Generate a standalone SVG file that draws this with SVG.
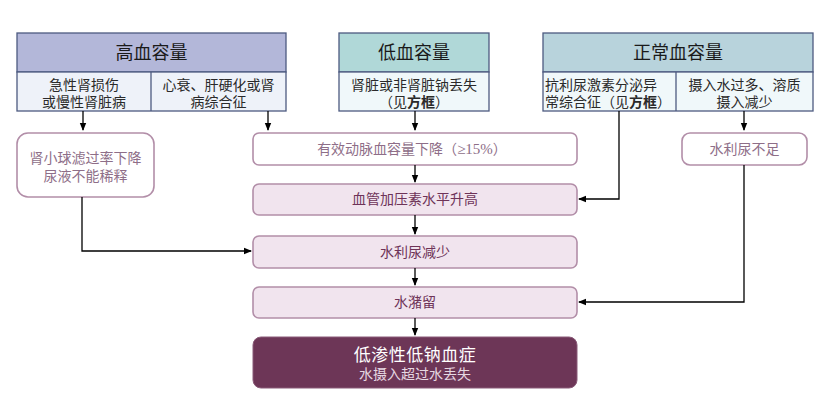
<svg xmlns="http://www.w3.org/2000/svg" width="831" height="413" viewBox="0 0 831 413">
<defs>
<marker id="ah" markerWidth="8" markerHeight="8" refX="7" refY="4" orient="auto" markerUnits="userSpaceOnUse">
<path d="M0,0.8 L8,4 L0,7.2 Z" fill="#000"/>
</marker>
<style>
text{font-family:"Liberation Serif","Noto Sans CJK SC",serif;text-anchor:middle}
.hb{stroke:#4d5a80;stroke-width:1.3}
.ht{font-size:18px;fill:#1a1a1a}
.st{font-size:14px;fill:#2a2a2a}
.wn{fill:#ffffff;stroke:#b28ea8;stroke-width:1.6}
.pn{fill:#f1e4ee;stroke:#b28ea8;stroke-width:1.6}
.wt{font-size:14px;fill:#8e6e88}
.pt{font-size:14px;fill:#6e3358}
.ln{fill:none;stroke:#000;stroke-width:1.3;marker-end:url(#ah)}
</style>
</defs>
<rect width="831" height="413" fill="#fff"/>
<g id="hyper">
<rect class="hb" x="17" y="33" width="269" height="39" fill="#b3b7d9"/>
<rect class="hb" x="17" y="72" width="269" height="39" fill="#eef2f9"/>
<line class="hb" x1="151" y1="72" x2="151" y2="111"/>
<text class="ht" x="151.5" y="59">高血容量</text>
<text class="st" x="84" y="90">急性肾损伤</text>
<text class="st" x="84" y="107">或慢性肾脏病</text>
<text class="st" x="218.5" y="90">心衰、肝硬化或肾</text>
<text class="st" x="218.5" y="107">病综合征</text>
</g>
<g id="hypo">
<rect class="hb" x="339" y="33" width="150" height="39" fill="#b0d8d8"/>
<rect class="hb" x="339" y="72" width="150" height="39" fill="#f0f8fa"/>
<text class="ht" x="414" y="59">低血容量</text>
<text class="st" x="414" y="90">肾脏或非肾脏钠丢失</text>
<text class="st" x="414" y="107">（见<tspan font-weight="bold">方框</tspan>）</text>
</g>
<g id="normo">
<rect class="hb" x="543" y="33" width="270" height="39" fill="#b8d3dc"/>
<rect class="hb" x="543" y="72" width="270" height="39" fill="#f0f8fa"/>
<line class="hb" x1="676" y1="72" x2="676" y2="111"/>
<text class="ht" x="678" y="59">正常血容量</text>
<text class="st" x="545" y="90" style="text-anchor:start">抗利尿激素分泌异</text>
<text class="st" x="545" y="107" style="text-anchor:start">常综合征（见<tspan font-weight="bold">方框</tspan>）</text>
<text class="st" x="744.5" y="90">摄入水过多、溶质</text>
<text class="st" x="744.5" y="107">摄入减少</text>
</g>
<g id="gfr">
<rect class="wn" x="17" y="133" width="137" height="64" rx="11"/>
<text class="wt" x="85.5" y="163">肾小球滤过率下降</text>
<text class="wt" x="85.5" y="181">尿液不能稀释</text>
</g>
<g id="eavd">
<rect class="wn" x="253" y="133" width="324" height="32" rx="6"/>
<text class="wt" x="412" y="154">有效动脉血容量下降（<tspan style="font-size:15px">≥15%</tspan>）</text>
</g>
<g id="wdef">
<rect class="wn" x="682" y="133" width="125" height="32" rx="8"/>
<text class="wt" x="744.5" y="154">水利尿不足</text>
</g>
<g id="avp">
<rect class="pn" x="253" y="184" width="324" height="31" rx="6"/>
<text class="pt" x="415" y="204">血管加压素水平升高</text>
</g>
<g id="wdr">
<rect class="pn" x="253" y="236" width="324" height="32" rx="6"/>
<text class="pt" x="415" y="257">水利尿减少</text>
</g>
<g id="wret">
<rect class="pn" x="253" y="287" width="324" height="31" rx="6"/>
<text class="pt" x="415" y="307">水潴留</text>
</g>
<g id="hypon">
<rect x="253" y="337" width="324" height="51" rx="8" fill="#6d3657" stroke="#8a5a78" stroke-width="1"/>
<text x="415" y="361" style="font-size:17px;letter-spacing:0.5px;fill:#ffffff">低渗性低钠血症</text>
<text x="415" y="379" style="font-size:14px;fill:#e6d8e2">水摄入超过水丢失</text>
</g>
<g id="connectors">
<line class="ln" x1="83" y1="111" x2="83" y2="130"/>
<line class="ln" x1="268" y1="111" x2="268" y2="130"/>
<line class="ln" x1="415" y1="111" x2="415" y2="130"/>
<line class="ln" x1="744" y1="111" x2="744" y2="130"/>
<line class="ln" x1="415" y1="165" x2="415" y2="182"/>
<polyline class="ln" points="619,111 619,199 579,199"/>
<line class="ln" x1="415" y1="215" x2="415" y2="234"/>
<polyline class="ln" points="82,197 82,251 251,251"/>
<line class="ln" x1="415" y1="268" x2="415" y2="285"/>
<polyline class="ln" points="744,165 744,302 579,302"/>
<line class="ln" x1="415" y1="318" x2="415" y2="335"/>
</g>
</svg>
